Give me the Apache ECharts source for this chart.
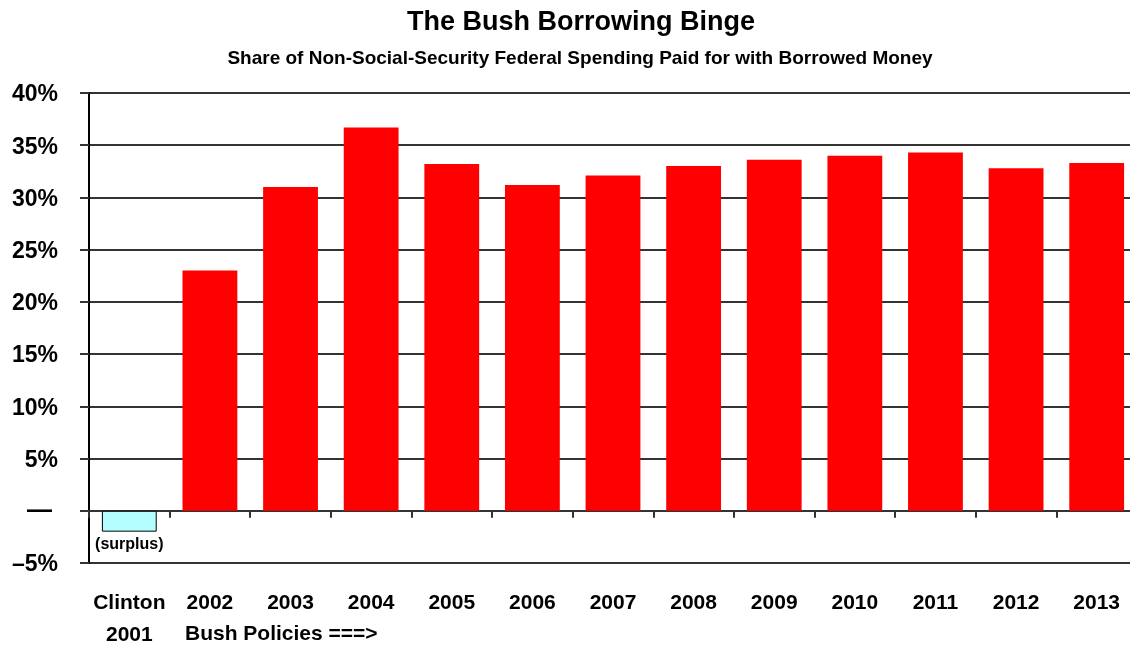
<!DOCTYPE html>
<html>
<head>
<meta charset="utf-8">
<script src="https://cdn.jsdelivr.net/npm/echarts@6/dist/echarts.min.js"></script>
<style>
  html, body { margin: 0; padding: 0; background: #fff; overflow: hidden; }
  #chart { width: 1130px; height: 645px; }
</style>
</head>
<body>
<div id="chart"></div>
<script>
// borrowed share of non-SS federal spending
const categories = ['Clinton\n2001', '2002', '2003', '2004', '2005', '2006', '2007',
  '2008', '2009', '2010', '2011', '2012', '2013']
const borrowedShare = [-2.0, 23.0, 31.0, 36.7, 33.2, 31.2, 32.1, 33.0, 33.6, 34.0, 34.3, 32.8, 33.3]
const yTicks = [-5, 0, 5, 10, 15, 20, 25, 30, 35, 40]

const font = 'Liberation Sans, Arial, sans-serif'
const lineColor = '#333'

let chart = echarts.init(document.getElementById('chart'))

let option = {
  title: [
    {
      text: 'The Bush Borrowing Binge',
      left: 576, top: 4, textAlign: 'center',
      textStyle: {fontFamily: font, fontSize: 27, fontWeight: 'bold', color: '#000'}
    },
    {
      text: 'Share of Non-Social-Security Federal Spending Paid for with Borrowed Money',
      left: 575, top: 44, textAlign: 'center',
      textStyle: {fontFamily: font, fontSize: 19, fontWeight: 'bold', color: '#000'}
    }
  ],
  grid: {left: 89, right: -7, top: 93, bottom: 82, outerBoundsMode: 'none', containLabel: false},
  xAxis: {
    type: 'category',
    data: categories,
    axisLine: {lineStyle: {color: lineColor, width: 2}},
    axisTick: {show: true, interval: 0, length: 7, lineStyle: {color: lineColor, width: 2}},
    axisLabel: {
      interval: 0, margin: 24, lineHeight: 32,
      fontFamily: font, fontSize: 21, fontWeight: 'bold', color: '#000'
    }
  },
  yAxis: {
    type: 'value',
    min: yTicks[0], max: yTicks[yTicks.length - 1], interval: 5,
    axisLine: {show: true, lineStyle: {color: '#000', width: 2}},
    axisTick: {show: true, length: 9, lineStyle: {color: lineColor, width: 2}},
    splitLine: {lineStyle: {color: lineColor, width: 2}},
    axisLabel: {
      margin: 31,
      padding: [4, 0, 0, 0],
      fontFamily: font, fontSize: 23, fontWeight: 'bold', color: '#000',
      formatter: v => v === 0 ? '{z|\u2014}' : (v < 0 ? '\u2013' + Math.abs(v) + '%' : v + '%'),
      rich: {
        z: {fontFamily: font, fontSize: 25, fontWeight: 'bold', color: '#000', padding: [0, 6, 4, 0]}
      }
    }
  },
  series: [{
    type: 'bar',
    barWidth: '68%',
    data: borrowedShare.map((v, i) => i === 0 ? {
      value: v,
      itemStyle: {color: '#b3ffff', borderColor: '#000', borderWidth: 1},
      label: {
        show: true, position: 'bottom', distance: 5, formatter: '(surplus)',
        fontFamily: font, fontSize: 16, fontWeight: 'bold', color: '#000'
      }
    } : v),
    itemStyle: {color: '#ff0000'},
    animation: false
  }],
  graphic: [{
    type: 'text',
    left: 185, top: 624,
    style: {
      text: 'Bush Policies ===>',
      font: 'bold 21px ' + font,
      fill: '#000'
    }
  }],
  animation: false
}

chart.setOption(option, true)
</script>
</body>
</html>
